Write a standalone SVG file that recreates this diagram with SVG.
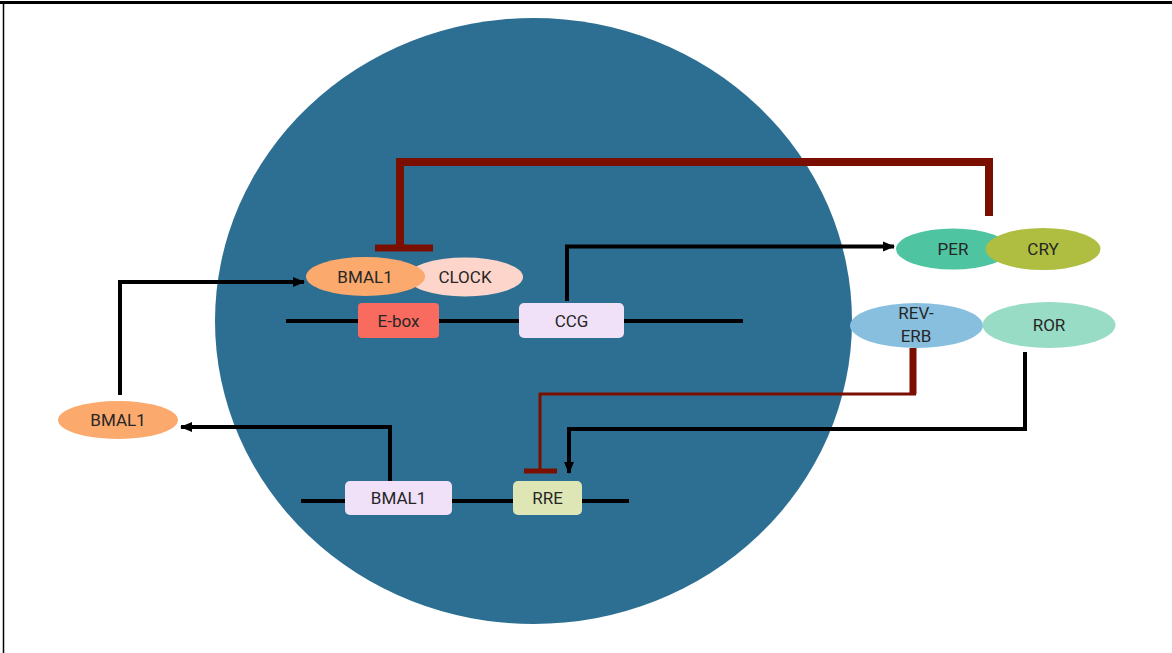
<svg xmlns="http://www.w3.org/2000/svg" width="1172" height="653" viewBox="0 0 1172 653">
<defs>
<style>
.lbl{font-family:Roboto,"Liberation Sans",sans-serif;font-size:17px;fill:#262626;text-anchor:middle;dominant-baseline:central}
.blk{fill:none;stroke:#000;stroke-width:4}
.red{fill:none;stroke:#7A0F00}
.dna{stroke:#000;stroke-width:4}
</style>
<marker id="ah" markerUnits="userSpaceOnUse" markerWidth="12" markerHeight="12" viewBox="0 0 12 12" refX="11" refY="6" orient="auto">
<path d="M0,1 L12,6 L0,11 Z" fill="#000"/>
</marker>
</defs>
<rect x="0" y="0" width="1172" height="653" fill="#fff"/>
<line x1="0" y1="2.5" x2="1172" y2="2.5" stroke="#000" stroke-width="3"/>
<line x1="3.5" y1="2" x2="3.5" y2="653" stroke="#000" stroke-width="1.5"/>
<g id="cell">
<ellipse cx="533.5" cy="321" rx="318.5" ry="303" fill="#2D6F93"/>
</g>
<g id="dna-lines">
<line class="dna" x1="286" y1="321" x2="743" y2="321"/>
<line class="dna" x1="301" y1="501" x2="629" y2="501"/>
</g>
<g id="connectors">
<path class="red" stroke-width="8" d="M989,216 V162 H400 V247"/>
<line class="red" stroke-width="7" x1="375" y1="248" x2="433" y2="248"/>
<path class="blk" stroke-width="6" d="M567,301 V246.5 H894" marker-end="url(#ah)"/>
<path class="blk" d="M120,395 V282 H304" marker-end="url(#ah)"/>
<path class="blk" d="M390,482 V427 H181" marker-end="url(#ah)"/>
<path class="red" stroke-width="7" d="M913,348 V394"/>
<path class="red" stroke-width="3" d="M916,394 H540 V470"/>
<line class="red" stroke-width="5" x1="524" y1="471" x2="557" y2="471"/>
<path class="blk" d="M1025,352 V429 H569 V473" marker-end="url(#ah)"/>
</g>
<g id="clock">
<ellipse cx="465" cy="277" rx="58" ry="19.5" fill="#FDD5CB"/>
<text class="lbl" x="465" y="277">CLOCK</text>
</g>
<g id="bmal1-protein">
<ellipse cx="365.5" cy="276.5" rx="59.5" ry="19.5" fill="#FBA96C"/>
<text class="lbl" x="365" y="277">BMAL1</text>
</g>
<g id="ebox">
<rect x="358" y="303" width="81" height="35" rx="4" fill="#F96B5E"/>
<text class="lbl" x="398.5" y="321">E-box</text>
</g>
<g id="ccg">
<rect x="519" y="303" width="105" height="35" rx="5" fill="#F0E1F8"/>
<text class="lbl" x="571.5" y="321">CCG</text>
</g>
<g id="per">
<ellipse cx="953" cy="249" rx="57" ry="20.5" fill="#4FC4A1"/>
<text class="lbl" x="953" y="249">PER</text>
</g>
<g id="cry">
<ellipse cx="1043" cy="249" rx="57.5" ry="21" fill="#AFBE40"/>
<text class="lbl" x="1043" y="249">CRY</text>
</g>
<g id="reverb">
<ellipse cx="916.5" cy="325.5" rx="66.5" ry="22.5" fill="#88BFDF"/>
<text class="lbl" x="916" y="313">REV-</text>
<text class="lbl" x="916" y="336">ERB</text>
</g>
<g id="ror">
<ellipse cx="1049" cy="325" rx="66.5" ry="23" fill="#98DCC6"/>
<text class="lbl" x="1049" y="325">ROR</text>
</g>
<g id="bmal1-outer">
<ellipse cx="118" cy="420" rx="60" ry="19" fill="#FBA96C"/>
<text class="lbl" x="118" y="420">BMAL1</text>
</g>
<g id="bmal1-gene">
<rect x="345" y="481" width="107" height="34" rx="5" fill="#F0E1F8"/>
<text class="lbl" x="398.5" y="498">BMAL1</text>
</g>
<g id="rre">
<rect x="513" y="481" width="69" height="34" rx="5" fill="#DFE6B6"/>
<text class="lbl" x="547.5" y="498">RRE</text>
</g>
</svg>
